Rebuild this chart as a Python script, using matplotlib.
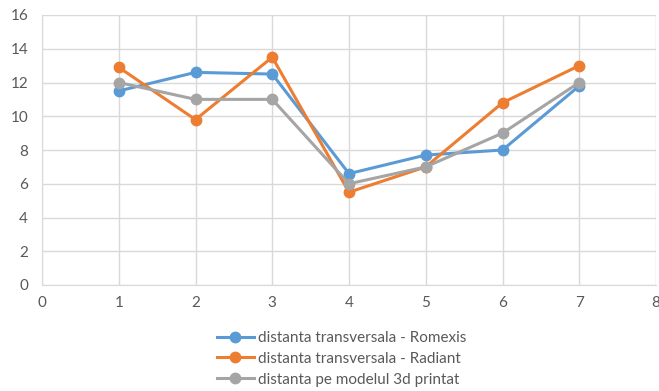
import matplotlib
matplotlib.use('Agg')
import matplotlib.pyplot as plt

plt.rcParams['font.family'] = ['Lato', 'DejaVu Sans']

# values
x = [1, 2, 3, 4, 5, 6, 7]
romexis = [11.5, 12.6, 12.5, 6.6, 7.7, 8.0, 11.8]
radiant = [12.9, 9.8, 13.5, 5.5, 7.0, 10.8, 13.0]
printat = [12.0, 11.0, 11.0, 6.0, 7.0, 9.0, 12.0]
labels = ['distanta transversala - Romexis',
          'distanta transversala - Radiant',
          'distanta pe modelul 3d printat']
colors = ['#5b9bd5', '#ed7d31', '#a5a5a5']

fig = plt.figure(figsize=(6.59, 3.91), dpi=100)
ax = fig.add_axes([42 / 659, 1 - 285 / 391, 614 / 659, 270 / 391])

for ys, lab, c in zip([romexis, radiant, printat], labels, colors):
    ax.plot(x, ys, color=c, lw=2.2, marker='o', ms=7.5, label=lab)

ax.set_xlim(0, 8)
ax.set_ylim(0, 16)
ax.set_xticks(range(0, 9))
ax.set_yticks(range(0, 17, 2))
ax.grid(True, color='#d9d9d9', lw=1)
ax.set_axisbelow(True)
for s in ['top', 'right']:
    ax.spines[s].set_visible(False)
for s in ['left', 'bottom']:
    ax.spines[s].set_color('#d9d9d9')
ax.tick_params(length=0, colors='#595959', labelsize=11, pad=8)
ax.tick_params(axis='y', pad=10)

ax.legend(loc='upper left', bbox_to_anchor=((217 - 42) / 614, -0.17),
          frameon=False, borderpad=0, borderaxespad=0,
          fontsize=11, labelcolor='#595959', handlelength=2.4,
          handletextpad=0.3, labelspacing=0.45)

fig.savefig('out.png', dpi=100)
